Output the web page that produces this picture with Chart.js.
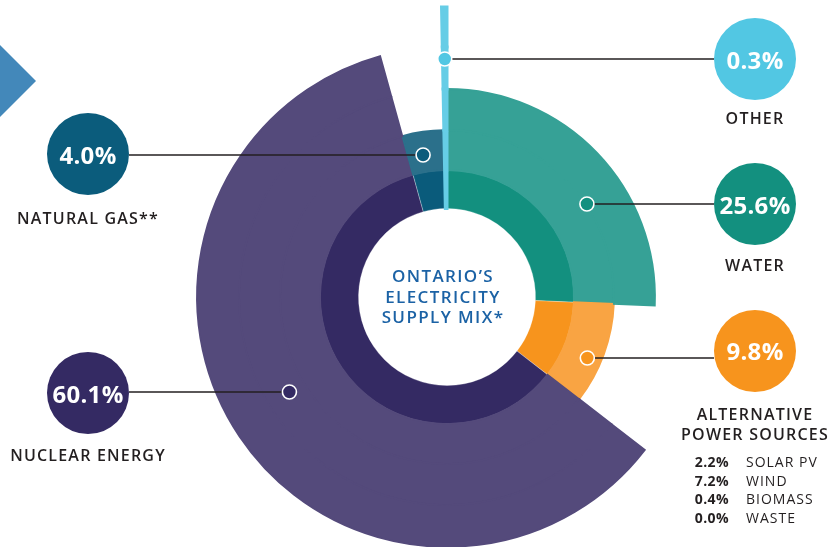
<!DOCTYPE html>
<html><head><meta charset="utf-8">
<script src="https://cdn.jsdelivr.net/npm/chart.js@4.4.1/dist/chart.umd.min.js"></script>
<style>
html,body{margin:0;padding:0;background:#fff;}
#wrap{position:relative;width:835px;height:547px;overflow:hidden;font-family:"Open Sans",sans-serif;}
#c{position:absolute;left:0;top:-40px;}
.tri{position:absolute;left:0;top:45px;width:36px;height:72px;background:#4388ba;clip-path:polygon(0 0,100% 50%,0 100%);}
.bub{position:absolute;border-radius:50%;color:#fff;font-weight:700;font-size:24px;display:flex;align-items:center;justify-content:center;transform:translate(-50%,-50%);letter-spacing:0.3px;}
.lbl{position:absolute;color:#231f20;font-weight:600;font-size:16px;letter-spacing:1.2px;white-space:nowrap;transform:translate(-50%,-50%);line-height:20px;text-align:center;}
.center{position:absolute;left:443px;top:297px;transform:translate(-50%,-50%);color:#1b62a5;font-weight:600;font-size:17px;letter-spacing:1.4px;line-height:20.5px;text-align:center;white-space:nowrap;}
.list{position:absolute;left:680px;top:453px;font-size:14px;color:#231f20;line-height:18.5px;}
.list .row{display:flex;}
.list .v{width:49px;text-align:right;font-weight:700;letter-spacing:0.4px;}
.list .n{margin-left:17px;letter-spacing:1px;font-weight:400;}
</style>
</head><body>
<div id="wrap">
<canvas id="c" width="835" height="676"></canvas>
<div class="tri"></div>
</div>
<script>
// ---- data ----
const categories = ['WATER', 'ALTERNATIVE\nPOWER SOURCES', 'NUCLEAR ENERGY', 'NATURAL GAS**', 'OTHER'];
const shares = [25.6, 9.8, 60.1, 4.0, 0.3];
const altSources = ['SOLAR PV', 'WIND', 'BIOMASS', 'WASTE'];
const altShares = [2.2, 7.2, 0.4, 0.0];
const centerTitle = ['ONTARIO\u2019S', 'ELECTRICITY', 'SUPPLY MIX*'];

// ---- styles / layout ----
const innerColors = ['#13907f', '#f7941d', '#342a63', '#0a5b7b', '#66cde6'];
const outerColors = ['#36a196', '#f9a443', '#544a7b', '#2b708b', '#66cde6'];
const bubbleColors = ['#13907f', '#f7941d', '#342a63', '#0b5c7c', '#52c7e3'];
const ringEdges = [88.5, 127, 167, 208, 250, 290];
const sliceReach = [3, 2, 4, 2, 5];
const Y_OFF = 40;
const callouts = [
  {bx: 755, by: 204, ly: 204, r: 168, lx: 755, lyLabel: 265},
  {bx: 755, by: 350.5, ly: 358, r: 153, lx: 755, lyLabel: 424},
  {bx: 88, by: 393, ly: 392, r: 184, lx: 88, lyLabel: 455},
  {bx: 88, by: 154, ly: 155, r: 144, lx: 88, lyLabel: 218},
  {bx: 755, by: 59, ly: 59, r: null, lx: 755, lyLabel: 118}
];
const BUB_R = 41;

const wrap = document.getElementById('wrap');
categories.forEach((c, i) => {
  const co = callouts[i];
  const b = document.createElement('div');
  b.className = 'bub';
  b.style.left = co.bx + 'px'; b.style.top = co.by + 'px';
  b.style.width = b.style.height = (BUB_R * 2) + 'px';
  b.style.background = bubbleColors[i];
  b.textContent = shares[i].toFixed(1) + '%';
  wrap.appendChild(b);
  const l = document.createElement('div');
  l.className = 'lbl';
  l.style.left = co.lx + 'px'; l.style.top = co.lyLabel + 'px';
  l.innerHTML = c.split('\n').join('<br>');
  wrap.appendChild(l);
});
const ct = document.createElement('div');
ct.className = 'center';
ct.innerHTML = centerTitle.join('<br>');
wrap.appendChild(ct);
const list = document.createElement('div');
list.className = 'list';
altSources.forEach((s, i) => {
  const r = document.createElement('div'); r.className = 'row';
  r.innerHTML = '<span class="v">' + altShares[i].toFixed(1) + '%</span><span class="n">' + s + '</span>';
  list.appendChild(r);
});
wrap.appendChild(list);

// ---- rings ----
const THIN = 4;
const datasets = [];
for (let band = 5; band >= 1; band--) {
  const bg = shares.map((v, i) => band === 1 ? innerColors[i] : (sliceReach[i] >= band ? outerColors[i] : 'rgba(0,0,0,0)'));
  const bc = shares.map((v, i) => (band === 1 && i !== THIN) ? 'rgba(255,255,255,0.28)' : bg[i]);
  const bw = shares.map((v, i) => i === THIN ? 3 : (band === 1 ? 1 : 1.8));
  datasets.push({
    data: shares,
    backgroundColor: bg,
    borderColor: bc,
    borderWidth: bw,
    borderJoinStyle: 'miter',
    weight: ringEdges[band] - ringEdges[band - 1]
  });
}

const connectors = {
  id: 'connectors',
  afterDatasetsDraw(chart) {
    const ctx = chart.ctx;
    const meta = chart.getDatasetMeta(chart.data.datasets.length - 1);
    meta.data.forEach((arc, i) => {
      const co = callouts[i];
      const cx = arc.x, cy = arc.y;
      const y = co.ly + Y_OFF;
      const dy = y - cy;
      const mid = (arc.startAngle + arc.endAngle) / 2;
      let x;
      if (co.r === null) {
        x = cx + dy * Math.cos(mid) / Math.sin(mid);
      } else {
        const side = Math.cos(mid) >= 0 ? 1 : -1;
        x = cx + side * Math.sqrt(Math.max(0, co.r * co.r - dy * dy));
      }
      const edge = co.bx > cx ? co.bx - BUB_R : co.bx + BUB_R;
      ctx.save();
      ctx.strokeStyle = '#231f20';
      ctx.lineWidth = 1.4;
      ctx.beginPath();
      ctx.moveTo(edge, y);
      ctx.lineTo(x, y);
      ctx.stroke();
      ctx.beginPath();
      ctx.arc(x, y, 7, 0, Math.PI * 2);
      ctx.fillStyle = bubbleColors[i];
      ctx.fill();
      ctx.strokeStyle = '#ffffff';
      ctx.lineWidth = 1.6;
      ctx.stroke();
      ctx.restore();
    });
  }
};

new Chart(document.getElementById('c'), {
  type: 'doughnut',
  data: {labels: categories, datasets},
  options: {
    responsive: false,
    animation: false,
    events: [],
    radius: ringEdges[5],
    cutout: (ringEdges[0] / ringEdges[5] * 100) + '%',
    layout: {padding: {left: 157, right: 98, top: 47, bottom: 49}},
    plugins: {legend: {display: false}, tooltip: {enabled: false}}
  },
  plugins: [connectors]
});
</script>
</body></html>
